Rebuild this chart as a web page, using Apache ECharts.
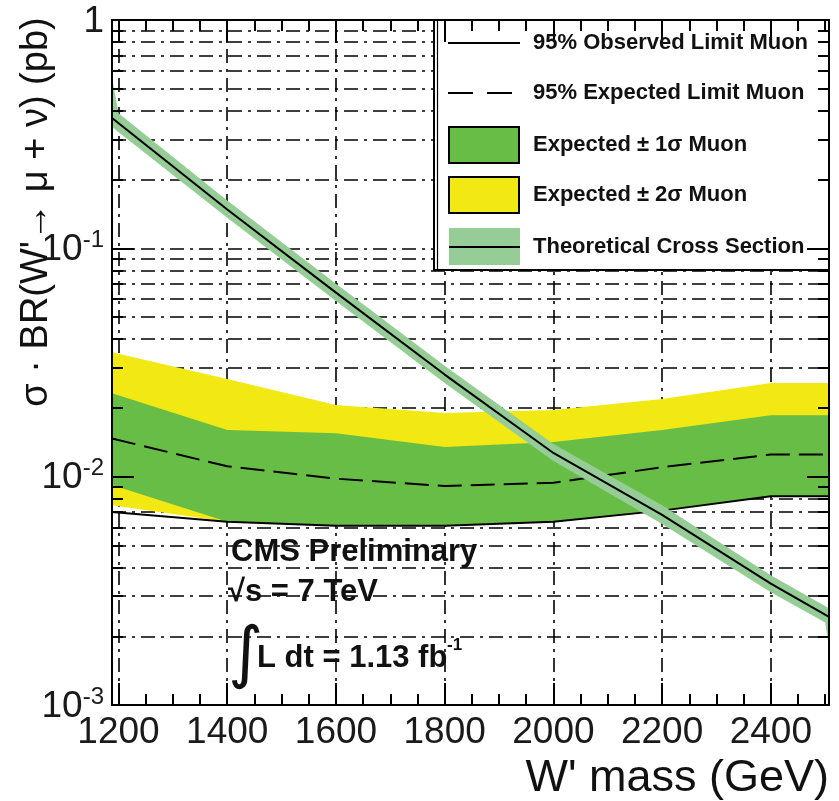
<!DOCTYPE html>
<html><head><meta charset="utf-8">
<script src="https://cdn.jsdelivr.net/npm/echarts@6/dist/echarts.min.js"></script>
<style>html,body{margin:0;padding:0;background:#fff}#c{width:839px;height:801px}</style>
</head><body><div id="c"></div>
<script>
// ---- data ----
const MASS      = [1188, 1400, 1600, 1800, 2000, 2200, 2400, 2507];
const OBSERVED  = [0.0070, 0.00635, 0.0061, 0.0061, 0.00635, 0.0071, 0.0082, 0.0082];
const EXPECTED  = [0.0147, 0.0111, 0.0098, 0.0091, 0.0094, 0.0110, 0.0125, 0.0125];
const SIG1_LO   = [0.0092, 0.00635, 0.0061, 0.0061, 0.00635, 0.0071, 0.0082, 0.0082];
const SIG1_HI   = [0.0232, 0.0160, 0.0155, 0.0135, 0.0142, 0.0160, 0.0186, 0.0186];
const SIG2_LO   = [0.0075, 0.00635, 0.0061, 0.0061, 0.00635, 0.0071, 0.0082, 0.0082];
const SIG2_HI   = [0.0351, 0.0268, 0.0206, 0.0190, 0.0196, 0.0219, 0.0257, 0.0257];

const TH_MASS   = [1188, 1400, 1600, 1800, 2000, 2200, 2400, 2507];
const TH_XSEC   = [0.372, 0.148, 0.064, 0.028, 0.0127, 0.0068, 0.0034, 0.00243];
const TH_HI_MASS = [1188, 1200, 1400, 1600, 1800, 2000, 2200, 2400, 2507];
const TH_HI      = [0.56, 0.39, 0.162, 0.070, 0.0306, 0.0139, 0.0075, 0.0037, 0.00265];
const TH_LO_MASS = [1188, 1400, 1600, 1800, 2000, 2200, 2400, 2500, 2507];
const TH_LO      = [0.34, 0.136, 0.0588, 0.0257, 0.0117, 0.0062, 0.00312, 0.0023, 0.00178];

// ---- axes / ticks ----
const X_RANGE = [1188, 2507];
const Y_RANGE = [0.001, 1];
const X_LABELS = [1200, 1400, 1600, 1800, 2000, 2200, 2400];
const X_MINOR = [1200,1250,1300,1350,1400,1450,1500,1550,1600,1650,1700,1750,1800,1850,1900,1950,2000,2050,2100,2150,2200,2250,2300,2350,2400,2450,2500];
const Y_DECADES = [0.001, 0.01, 0.1, 1];
const Y_GRID = [0.002,0.003,0.004,0.005,0.006,0.007,0.008,0.009,
                0.01,0.02,0.03,0.04,0.05,0.06,0.07,0.08,0.09,
                0.1,0.2,0.3,0.4,0.5,0.6,0.7,0.8,0.9];

const LEGEND_TEXT = ['95% Observed Limit Muon','95% Expected Limit Muon','Expected ± 1σ Muon','Expected ± 2σ Muon','Theoretical Cross Section'];
const X_TITLE = "W' mass (GeV)";
const Y_TITLE = "σ · BR(W'→ μ + ν) (pb)";

const YELLOW = '#f2e814', GREEN = '#68bd46', THEORY = '#96cd96';
const FONT = '"Liberation Sans", Arial, Helvetica, sans-serif';
const GRID_DASH = [14, 6, 3, 6];

const chart = echarts.init(document.getElementById('c'), null, {renderer: 'canvas'});

function band(xHi, hi, xLo, lo, color, z) {
  return {
    type: 'custom', z: z, silent: true,
    data: [[xHi[0], hi[0]]],
    renderItem: function (params, api) {
      if (params.dataIndex !== 0) return null;
      const pts = [];
      for (let i = 0; i < xHi.length; i++) pts.push(api.coord([xHi[i], hi[i]]));
      for (let i = xLo.length - 1; i >= 0; i--) pts.push(api.coord([xLo[i], lo[i]]));
      return {type: 'polygon', shape: {points: pts}, style: {fill: color, stroke: null}};
    }
  };
}

function tickX(pos, values, len, line) {
  return {type: 'value', position: pos, min: X_RANGE[0], max: X_RANGE[1], z: 10,
    axisLine: {show: line, onZero: false, lineStyle: {color: '#000', width: 2}},
    axisTick: {show: true, inside: true, length: len, customValues: values, lineStyle: {color: '#000', width: 2}},
    axisLabel: {show: false}, splitLine: {show: false}};
}
function tickY(pos, values, len, line) {
  return {type: 'log', logBase: 10, position: pos, min: Y_RANGE[0], max: Y_RANGE[1], z: 10,
    axisLine: {show: line, onZero: false, lineStyle: {color: '#000', width: 2}},
    axisTick: {show: true, inside: true, length: len, customValues: values, lineStyle: {color: '#000', width: 2}},
    axisLabel: {show: false}, splitLine: {show: false}};
}

const pairs = (xs, ys) => xs.map((x, i) => [x, ys[i]]);

const txt = (x, y, text, font, extra) => ({
  type: 'text', x: x, y: y, z: 20,
  style: Object.assign({text: text, font: font, fill: '#111',
    align: 'left', textAlign: 'left', verticalAlign: 'middle', textVerticalAlign: 'middle'}, extra || {})
});

const LEG_Y = [43, 93, 145, 195, 247];
const legendFont = 'bold 22px ' + FONT;
const cmsFont = 'bold 31px ' + FONT;

const option = {
  animation: false,
  backgroundColor: '#fff',
  grid: {left: 112, right: 10, top: 20, bottom: 96, containLabel: false, outerBoundsMode: 'none'},
  xAxis: [
    {type: 'value', position: 'bottom', min: X_RANGE[0], max: X_RANGE[1], z: 0,
     axisLine: {show: false, onZero: false},
     axisTick: {show: false, customValues: X_LABELS},
     axisLabel: {customValues: X_LABELS, fontSize: 37, fontFamily: FONT, color: '#1a1a1a', margin: 9,
       formatter: function (v) { return String(v); }},
     splitLine: {show: true, lineStyle: {color: '#000', width: 1.6, type: GRID_DASH}}},
    tickX('bottom', X_LABELS, 22, true),
    tickX('bottom', X_MINOR, 11, false),
    tickX('top', X_LABELS, 22, true),
    tickX('top', X_MINOR, 11, false)
  ],
  yAxis: [
    {type: 'log', logBase: 10, position: 'left', min: Y_RANGE[0], max: Y_RANGE[1], z: 0,
     axisLine: {show: false, onZero: false},
     axisTick: {show: false, customValues: Y_GRID},
     axisLabel: {customValues: Y_DECADES, margin: 8, color: '#1a1a1a',
       formatter: function (v) {
         const e = Math.round(Math.log10(v));
         return e === 0 ? '{b|1}' : '{b|10}{s|' + e + '}';
       },
       rich: {
         b: {fontSize: 37, fontFamily: FONT, color: '#1a1a1a', lineHeight: 40, verticalAlign: 'bottom'},
         s: {fontSize: 24, fontFamily: FONT, color: '#1a1a1a', lineHeight: 24, verticalAlign: 'top'}
       }},
     splitLine: {show: true, lineStyle: {color: '#000', width: 1.6, type: GRID_DASH}}},
    tickY('left', Y_DECADES, 22, true),
    tickY('left', Y_GRID, 11, false),
    tickY('right', Y_DECADES, 22, true),
    tickY('right', Y_GRID, 11, false)
  ],
  series: [
    band(MASS, SIG2_HI, MASS, SIG2_LO, YELLOW, 2),
    band(MASS, SIG1_HI, MASS, SIG1_LO, GREEN, 3),
    {type: 'line', name: 'expected', z: 4, data: pairs(MASS, EXPECTED), showSymbol: false, symbol: 'none',
     lineStyle: {color: '#000', width: 2, type: [24, 9]}},
    {type: 'line', name: 'observed', z: 4, data: pairs(MASS, OBSERVED), showSymbol: false, symbol: 'none',
     lineStyle: {color: '#000', width: 2}},
    band(TH_HI_MASS, TH_HI, TH_LO_MASS, TH_LO, THEORY, 5),
    {type: 'line', name: 'theory', z: 6, data: pairs(TH_MASS, TH_XSEC), showSymbol: false, symbol: 'none',
     lineStyle: {color: '#000', width: 2}}
  ],
  graphic: {elements: [
    // legend box
    {type: 'rect', z: 8, shape: {x: 434, y: 20, width: 395, height: 250}, style: {fill: '#fff', stroke: '#000', lineWidth: 2}},
    {type: 'line', z: 8, shape: {x1: 437.5, y1: 20, x2: 437.5, y2: 270}, style: {stroke: '#000', lineWidth: 1.2}},
    {type: 'line', z: 9, shape: {x1: 448, y1: LEG_Y[0], x2: 520, y2: LEG_Y[0]}, style: {stroke: '#000', lineWidth: 2}},
    {type: 'line', z: 9, shape: {x1: 448, y1: LEG_Y[1], x2: 520, y2: LEG_Y[1]}, style: {stroke: '#000', lineWidth: 2, lineDash: [25, 14]}},
    {type: 'rect', z: 9, shape: {x: 449, y: 127, width: 70, height: 36}, style: {fill: GREEN, stroke: '#000', lineWidth: 2}},
    {type: 'rect', z: 9, shape: {x: 449, y: 177, width: 70, height: 36}, style: {fill: YELLOW, stroke: '#000', lineWidth: 2}},
    {type: 'rect', z: 9, shape: {x: 449, y: 228, width: 71, height: 37}, style: {fill: THEORY}},
    {type: 'line', z: 9, shape: {x1: 449, y1: LEG_Y[4], x2: 520, y2: LEG_Y[4]}, style: {stroke: '#000', lineWidth: 2}},
    txt(533, LEG_Y[0], LEGEND_TEXT[0], legendFont),
    txt(533, LEG_Y[1], LEGEND_TEXT[1], legendFont),
    txt(533, LEG_Y[2], LEGEND_TEXT[2], legendFont),
    txt(533, LEG_Y[3], LEGEND_TEXT[3], legendFont),
    txt(533, LEG_Y[4], LEGEND_TEXT[4], legendFont),
    // CMS annotation
    txt(231, 552, 'CMS Preliminary', cmsFont),
    txt(228, 592, '√s = 7 TeV', cmsFont),
    txt(228, 657, '∫', '68px "DejaVu Sans", ' + FONT),
    txt(257, 658, 'L dt = 1.13 fb', cmsFont),
    txt(447, 645, '-1', 'bold 17px ' + FONT),
    // axis titles
    txt(829, 779, X_TITLE, '45px ' + FONT, {align: 'right', textAlign: 'right'}),
    Object.assign(txt(37, 212, Y_TITLE, '38px ' + FONT, {align: 'center', textAlign: 'center'}), {rotation: Math.PI / 2})
  ]}
};
chart.setOption(option);
</script>
</body></html>
